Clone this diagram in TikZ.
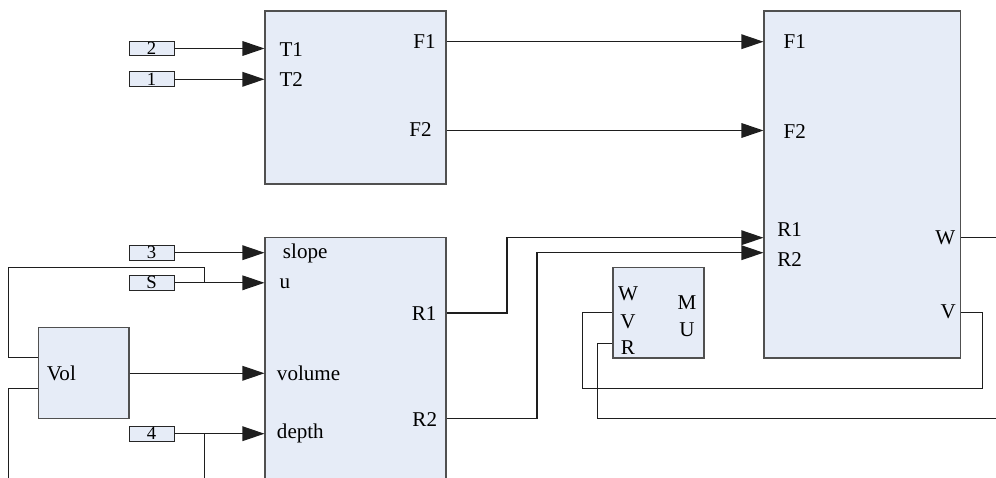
\documentclass[tikz,border=0pt]{standalone}
\usepackage{fontspec}
\setmainfont{Liberation Serif}
\usetikzlibrary{arrows.meta,fit}
\definecolor{boxfill}{RGB}{230,236,247}
\definecolor{edge}{RGB}{80,80,80}
\definecolor{wirec}{RGB}{30,30,30}
\begin{document}
\begin{tikzpicture}[x=0.75pt,y=-0.75pt,
  blk/.style={draw=edge, fill=boxfill, line width=0.8pt, inner sep=0pt},
  inbox/.style={draw=black!85, fill=boxfill, line width=0.75pt, inner sep=0pt,
    minimum width=33.75pt, minimum height=11pt, font=\fontsize{14}{14}\selectfont},
  lbl/.style={inner sep=0pt, font=\fontsize{15.8}{17}\selectfont},
  wire/.style={draw=wirec, line width=0.8pt},
  arr/.style={wire, -{Triangle[length=16.5pt,width=11pt]}}
]
\useasboundingbox (0,0) rectangle (996,478);
\clip (0,0) rectangle (996,478);

% blocks
\node[blk, fit={(265,11)(446,184)}] (A) {};
\node[blk, fit={(764,11)(960.5,358)}] (B) {};
\node[blk, fit={(265,237.3)(446,495)}] (C) {};
\node[blk, fit={(38.3,327.5)(129,418.5)}] (Vol) {};
\node[blk, fit={(613,267.5)(704,358)}] (D) {};

% input boxes
\node[inbox] (in2) at (151.5,48.5) {2};
\node[inbox] (in1) at (151.5,79.3) {1};
\node[inbox] (in3) at (151.5,252.7) {3};
\node[inbox] (inS) at (151.5,282.8) {S};
\node[inbox] (in4) at (151.5,433.7) {4};

% labels of A
\node[lbl, anchor=west] (lT1) at (279.3,49.5) {T1};
\node[lbl, anchor=west] (lT2) at (279.3,79.5) {T2};
\node[lbl, anchor=east] (lAF1) at (436,41.7) {F1};
\node[lbl, anchor=east] (lAF2) at (432,130) {F2};
% labels of B
\node[lbl, anchor=west] (lBF1) at (783.3,41.7) {F1};
\node[lbl, anchor=west] (lBF2) at (783.3,131.7) {F2};
\node[lbl, anchor=west] (lBR1) at (777,230) {R1};
\node[lbl, anchor=west] (lBR2) at (777,260) {R2};
\node[lbl, anchor=east] (lBW) at (955.5,237.3) {W};
\node[lbl, anchor=east] (lBV) at (956,311.7) {V};
% labels of C
\node[lbl, anchor=west] (lslope) at (282.7,253) {slope};
\node[lbl, anchor=west] (lu) at (279.3,283.3) {u};
\node[lbl, anchor=west] (lvolume) at (276.7,373.5) {volume};
\node[lbl, anchor=west] (ldepth) at (276.7,433.5) {depth};
\node[lbl, anchor=east] (lCR1) at (436.7,313.3) {R1};
\node[lbl, anchor=east] (lCR2) at (437.3,420) {R2};
% label of Vol
\node[lbl, anchor=west] (lVol) at (46.7,373.3) {Vol};
% labels of D
\node[lbl] (lDW) at (628,294) {W};
\node[lbl] (lDV) at (628,321.5) {V};
\node[lbl] (lDR) at (628,347.5) {R};
\node[lbl] (lDM) at (687,303) {M};
\node[lbl] (lDU) at (687,330) {U};

% free ends
\coordinate (Wout) at (996,237.3);
\coordinate (Rout) at (996,418.3);
\coordinate (volbot) at (8.3,480);
\coordinate (depbot) at (204.7,480);
\coordinate (jS) at (204.7,282.8);
\coordinate (jD) at (204.7,433.7);

% inputs
\draw[arr] (in2.east) -- (in2.east -| A.west);
\draw[arr] (in1.east) -- (in1.east -| A.west);
\draw[arr] (in3.east) -- (in3.east -| C.west);
\draw[arr] (inS.east) -- (inS.east -| C.west);
\draw[arr] (in4.east) -- (in4.east -| C.west);

% A to B
\draw[arr] (A.east |- 0,41.7) -- (B.west |- 0,41.7);
\draw[arr] (A.east |- 0,130.5) -- (B.west |- 0,130.5);

% Vol to C
\draw[arr] (Vol.east |- 0,373.3) -- (C.west |- 0,373.3);

% C to B
\draw[arr] (C.east |- 0,313) -- (507,313) |- (B.west |- 0,237.7);
\draw[arr] (C.east |- 0,418.3) -- (537,418.3) |- (B.west |- 0,252.7);

% B outputs
\draw[wire] (B.east |- Wout) -- (Wout);
\draw[wire] (B.east |- 0,312.7) -- (982.7,312.7) -- (982.7,388.3) -- (582.7,388.3) -- (582.7,312.5) -- (D.west |- 0,312.5);
\draw[wire] (D.west |- 0,343.3) -- (597.7,343.3) |- (Rout);

% Vol feedback
\draw[wire] (Vol.west |- 0,357.7) -- (8.3,357.7) -- (8.3,267.3) -| (jS);
\draw[wire] (Vol.west |- 0,388.3) -| (volbot);
\draw[wire] (jD) -- (depbot);
\end{tikzpicture}
\end{document}
